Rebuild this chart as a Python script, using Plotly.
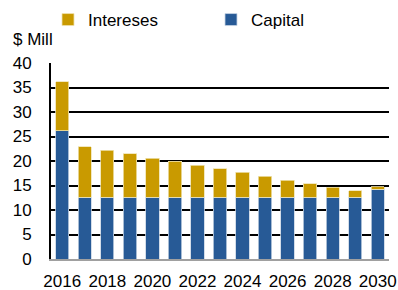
import plotly.graph_objects as go

years = [str(y) for y in range(2016, 2031)]
capital = [26.2, 12.6, 12.6, 12.6, 12.6, 12.6, 12.6, 12.6, 12.6, 12.6, 12.6, 12.6, 12.6, 12.6, 14.2]
total = [36.2, 22.9, 22.2, 21.5, 20.6, 20.0, 19.1, 18.4, 17.7, 16.9, 16.1, 15.4, 14.6, 13.9, 14.7]
intereses = [round(t - c, 2) for t, c in zip(total, capital)]
tick_years = [str(y) for y in range(2016, 2031, 2)]

BLUE = "#275A96"
GOLD = "#C99A00"
FONT = "Liberation Sans, Arial, sans-serif"

fig = go.Figure()
fig.add_trace(go.Bar(x=years, y=capital, name="Capital", marker=dict(color=BLUE, line=dict(color="#C8D4E4", width=0.8))))
fig.add_trace(go.Bar(x=years, y=intereses, name="Intereses", marker=dict(color=GOLD, line=dict(color="#EFE2B0", width=0.8))))

fig.update_layout(
    barmode="stack",
    bargap=0.41,
    width=398, height=290,
    margin=dict(l=51, r=9, t=63, b=31, autoexpand=False),
    paper_bgcolor="white", plot_bgcolor="white",
    font=dict(family=FONT, size=17, color="black"),
    showlegend=True,
    legend=dict(orientation="h", traceorder="reversed", xref="container", yref="container",
                x=48 / 398, xanchor="left", y=1 - 2 / 290, yanchor="top",
                font=dict(size=17), entrywidth=118, itemwidth=30,
                bgcolor="rgba(0,0,0,0)"),
    annotations=[dict(text="$ Mill", xref="paper", yref="paper", x=-0.118, y=1.06, xanchor="left", yanchor="bottom",
                      showarrow=False, font=dict(size=17))],
)
fig.update_xaxes(type="category", tickvals=tick_years, ticktext=tick_years, showgrid=False,
                 showline=True, linecolor="#A0A0A0", linewidth=2, ticks="", ticklabelstandoff=6,
                 tickfont=dict(size=17))
fig.update_yaxes(range=[0, 40], dtick=5, showgrid=True, gridcolor="black", gridwidth=2,
                 showline=True, linecolor="black", linewidth=2, zeroline=False, ticks="",
                 ticklabelstandoff=14, tickfont=dict(size=17))

fig.write_html("out.html", config={"displayModeBar": False},
               post_script="document.body.style.margin='0px';")
